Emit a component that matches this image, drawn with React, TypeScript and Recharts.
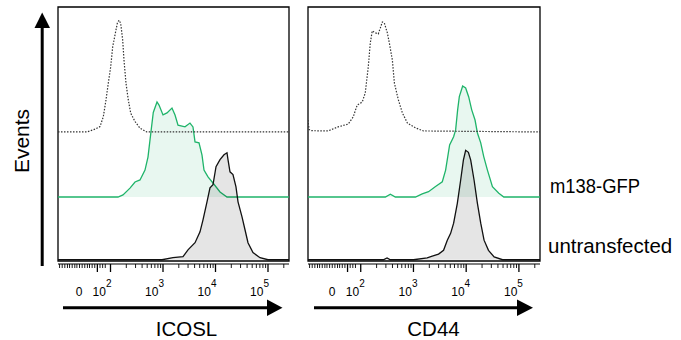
import React from 'react';
import { ComposedChart, Line, Area, XAxis, YAxis, ReferenceArea } from 'recharts';

// ---------- axis / layout constants ----------
const X_MIN = 1.0;
const X_MAX = 5.4;
const ISO_OFFSET = 50.8; // dotted control histogram baseline
const GFP_OFFSET = 25.2; // m138-GFP histogram baseline
const UNT_OFFSET = 0.5; // untransfected histogram baseline

// ---------- ICOSL panel ----------
const ICOSL_ISO_X = [1.0, 1.55, 1.705, 1.8, 1.863, 1.914, 1.958, 2.004, 2.042, 2.086, 2.13, 2.162, 2.194, 2.232, 2.257, 2.295, 2.339, 2.385, 2.467, 2.562, 2.69, 5.4];
const ICOSL_ISO_H = [0, 0, 1.1, 2.1, 6.0, 12.6, 19.2, 25.7, 33.6, 38.2, 42.8, 44.0, 42.8, 36.2, 28.3, 19.2, 12.6, 7.4, 4.1, 1.5, 0, 0];

const ICOSL_GFP_X = [1.0, 2.143, 2.238, 2.371, 2.467, 2.562, 2.657, 2.714, 2.752, 2.815, 2.886, 2.924, 3.0, 3.076, 3.171, 3.229, 3.286, 3.419, 3.514, 3.571, 3.61, 3.686, 3.743, 3.781, 3.857, 3.952, 4.086, 4.219, 5.4];
const ICOSL_GFP_H = [0, 0, 0.8, 3.5, 5.9, 6.7, 10.6, 15.7, 22.4, 33.3, 37.4, 36.2, 32.3, 33.1, 35.0, 32.3, 28.3, 27.6, 29.1, 27.6, 21.7, 21.3, 16.5, 10.6, 7.9, 5.5, 2.0, 0, 0];

const ICOSL_UNT_X = [1.0, 2.981, 3.19, 3.381, 3.476, 3.61, 3.705, 3.762, 3.838, 3.895, 3.952, 4.01, 4.086, 4.162, 4.219, 4.238, 4.276, 4.333, 4.39, 4.429, 4.505, 4.562, 4.619, 4.714, 4.848, 5.0, 5.4];
const ICOSL_UNT_H = [0, 0, 0.8, 1.2, 3.9, 6.7, 11.0, 15.7, 22.8, 28.3, 29.5, 36.6, 39.4, 41.3, 42.1, 39.4, 34.6, 33.5, 28.7, 22.8, 16.9, 11.8, 6.7, 2.8, 0.8, 0, 0];

// ---------- CD44 panel ----------
const CD44_ISO_X = [1.0, 1.02, 1.07, 1.381, 1.571, 1.762, 1.857, 1.933, 2.029, 2.086, 2.143, 2.181, 2.219, 2.276, 2.333, 2.371, 2.41, 2.448, 2.505, 2.543, 2.6, 2.638, 2.714, 2.79, 2.886, 3.038, 3.19, 5.4];
const CD44_ISO_H = [4.7, 1.0, 0.5, 0.4, 2.0, 3.1, 5.9, 10.6, 11.8, 15.4, 25.6, 35.0, 39.8, 39.0, 38.6, 40.9, 43.3, 42.9, 39.0, 35.0, 28.3, 19.3, 12.6, 7.5, 3.5, 1.6, 0.4, 0];

const CD44_GFP_X = [1.0, 2.467, 2.562, 2.657, 3.038, 3.166, 3.286, 3.419, 3.547, 3.61, 3.686, 3.762, 3.8, 3.838, 3.87, 3.933, 3.99, 4.048, 4.105, 4.168, 4.213, 4.276, 4.333, 4.403, 4.498, 4.619, 4.714, 5.4];
const CD44_GFP_H = [0, 0, 1.1, 0, 0, 1.2, 2.1, 4.1, 6.0, 10.6, 20.5, 23.7, 26.4, 34.3, 39.5, 43.7, 42.9, 39.4, 34.3, 30.3, 25.2, 21.3, 15.9, 10.6, 4.1, 1.5, 0, 0];

const CD44_UNT_X = [1.0, 2.429, 2.499, 2.562, 3.0, 3.261, 3.356, 3.476, 3.571, 3.642, 3.705, 3.762, 3.832, 3.895, 3.947, 3.99, 4.042, 4.086, 4.15, 4.213, 4.276, 4.339, 4.423, 4.53, 4.69, 5.4];
const CD44_UNT_H = [0, 0, 0.7, 0, 0, 0.7, 1.4, 2.2, 3.7, 7.7, 10.4, 14.4, 22.2, 31.3, 39.2, 43.1, 42.3, 39.2, 31.3, 22.2, 14.4, 7.7, 3.7, 1.1, 0, 0];

// ---------- ticks ----------
const TICK_LABEL_VALUES = [1.4, 2, 3, 4, 5];
const TICK_LABEL_BASES = ['0', '10', '10', '10', '10'];
const TICK_LABEL_EXPS = ['', '2', '3', '4', '5'];
const LONG_TICKS = [1.75, 2, 3, 4, 5];
const LINEAR_MINOR_TICKS = [1.03, 1.08, 1.13, 1.18, 1.22, 1.27, 1.32, 1.36, 1.41, 1.46, 1.51, 1.56, 1.6, 1.65, 1.7, 1.8, 1.85, 1.9];
const LOG_DECADES = [2, 3, 4, 5];
const LOG_MULTIPLIERS = [2, 3, 4, 5, 6, 7, 8, 9];
const LOG_MINOR_TICKS = LOG_DECADES.flatMap((d) => LOG_MULTIPLIERS.map((m) => d + Math.log10(m))).filter((v) => v < X_MAX);
const MINOR_TICKS = [...LINEAR_MINOR_TICKS, ...LOG_MINOR_TICKS];
const ALL_TICKS = Array.from(new Set([...TICK_LABEL_VALUES, ...LONG_TICKS, ...MINOR_TICKS])).sort((a, b) => a - b);

// ---------- colours ----------
const GREEN = '#1fb46a';
const FONT = '"Liberation Sans", Arial, sans-serif';

const toSeries = (xs: number[], hs: number[], offset: number) => xs.map((x, i) => ({ x, y: offset + hs[i] }));

function makeTick(shift: number) {
  return (props: any) => {
    const { x, y, payload } = props;
    const v = payload.value;
    const isLong = LONG_TICKS.includes(v);
    const isLine = isLong || MINOR_TICKS.includes(v);
    const li = TICK_LABEL_VALUES.indexOf(v);
    return (
      <g>
        {isLine && (
          <line x1={x} x2={x} y1={y} y2={y + (isLong ? 8 : 4)} stroke="#000" strokeWidth={isLong ? 1.3 : 0.9} />
        )}
        {li === 0 && (
          <text x={x + shift} y={y + 32} textAnchor="middle" fontSize={12} fontFamily={FONT} fill="#000">
            {TICK_LABEL_BASES[li]}
          </text>
        )}
        {li > 0 && (
          <text x={x + 1 + shift} y={y + 32} textAnchor="end" fontSize={12} fontFamily={FONT} fill="#000">
            {TICK_LABEL_BASES[li]}
            <tspan dy={-9} fontSize={10}>{TICK_LABEL_EXPS[li]}</tspan>
          </text>
        )}
      </g>
    );
  };
}

interface PanelProps {
  iso: { x: number; y: number }[];
  gfp: { x: number; y: number }[];
  unt: { x: number; y: number }[];
  rightMargin: number;
  labelShift: number;
}

function Panel({ iso, gfp, unt, rightMargin, labelShift }: PanelProps) {
  return (
    <ComposedChart width={300} height={340} margin={{ top: 7, right: rightMargin, bottom: 0, left: 58 }}>
      <XAxis
        type="number"
        dataKey="x"
        domain={[X_MIN, X_MAX]}
        ticks={ALL_TICKS}
        interval={0}
        height={76}
        tickSize={0}
        tickMargin={0}
        tickLine={false}
        axisLine={{ stroke: '#000', strokeWidth: 1.2 }}
        tick={makeTick(labelShift)}
        allowDataOverflow
      />
      <YAxis type="number" domain={[0, 100]} hide width={0} padding={{ top: 0, bottom: 3 }} allowDataOverflow />
      <ReferenceArea x1={X_MIN} x2={X_MAX} y1={0} y2={100} fill="none" stroke="#000" strokeWidth={1.3} ifOverflow="visible" />
      <Line
        data={iso}
        dataKey="y"
        type="linear"
        stroke="#333"
        strokeWidth={1.2}
        strokeDasharray="1.5 1.5"
        dot={false}
        activeDot={false}
        isAnimationActive={false}
      />
      <Area
        data={gfp}
        dataKey="y"
        type="linear"
        baseValue={GFP_OFFSET}
        stroke={GREEN}
        strokeWidth={1.3}
        fill={GREEN}
        fillOpacity={0.1}
        dot={false}
        activeDot={false}
        isAnimationActive={false}
      />
      <Area
        data={unt}
        dataKey="y"
        type="linear"
        baseValue={UNT_OFFSET}
        stroke="#111"
        strokeWidth={1.3}
        fill="#000"
        fillOpacity={0.1}
        dot={false}
        activeDot={false}
        isAnimationActive={false}
      />
    </ComposedChart>
  );
}

export default function App() {
  const icoslIso = toSeries(ICOSL_ISO_X, ICOSL_ISO_H, ISO_OFFSET);
  const icoslGfp = toSeries(ICOSL_GFP_X, ICOSL_GFP_H, GFP_OFFSET);
  const icoslUnt = toSeries(ICOSL_UNT_X, ICOSL_UNT_H, UNT_OFFSET);
  const cd44Iso = toSeries(CD44_ISO_X, CD44_ISO_H, ISO_OFFSET);
  const cd44Gfp = toSeries(CD44_GFP_X, CD44_GFP_H, GFP_OFFSET);
  const cd44Unt = toSeries(CD44_UNT_X, CD44_UNT_H, UNT_OFFSET);

  return (
    <div style={{ position: 'absolute', left: 0, top: 0, width: 681, height: 340, background: '#fff', overflow: 'hidden' }}>
      <div style={{ position: 'absolute', left: 0, top: 0 }}>
        <Panel iso={icoslIso} gfp={icoslGfp} unt={icoslUnt} rightMargin={11} labelShift={0} />
      </div>
      <div style={{ position: 'absolute', left: 250, top: 0 }}>
        <Panel iso={cd44Iso} gfp={cd44Gfp} unt={cd44Unt} rightMargin={10} labelShift={3} />
      </div>
      <svg width={681} height={340} style={{ position: 'absolute', left: 0, top: 0, pointerEvents: 'none' }}>
        {/* Events arrow */}
        <line x1={42.2} y1={266} x2={42.2} y2={27} stroke="#000" strokeWidth={3} />
        <polygon points="34.5,28 50,28 42.2,12.5" fill="#000" />
        <text x={29} y={141} transform="rotate(-90 29 141)" textAnchor="middle" fontSize={21} fontFamily={FONT} fill="#000">
          Events
        </text>
        {/* ICOSL arrow */}
        <line x1={63} y1={307.8} x2={268} y2={307.8} stroke="#000" strokeWidth={3} />
        <polygon points="267,299.5 267,316 282.5,307.8" fill="#000" />
        <text x={186.5} y={336} textAnchor="middle" fontSize={20.5} fontFamily={FONT} fill="#000">
          ICOSL
        </text>
        {/* CD44 arrow */}
        <line x1={314} y1={307.8} x2={518} y2={307.8} stroke="#000" strokeWidth={3} />
        <polygon points="517,299.5 517,316 533,307.8" fill="#000" />
        <text x={433.5} y={336} textAnchor="middle" fontSize={20.5} fontFamily={FONT} fill="#000">
          CD44
        </text>
        {/* series labels */}
        <text x={550} y={193} fontSize={20} fontFamily={FONT} fill="#000" textLength={90} lengthAdjust="spacingAndGlyphs">
          m138-GFP
        </text>
        <text x={548} y={253} fontSize={20.5} fontFamily={FONT} fill="#000">
          untransfected
        </text>
      </svg>
    </div>
  );
}
